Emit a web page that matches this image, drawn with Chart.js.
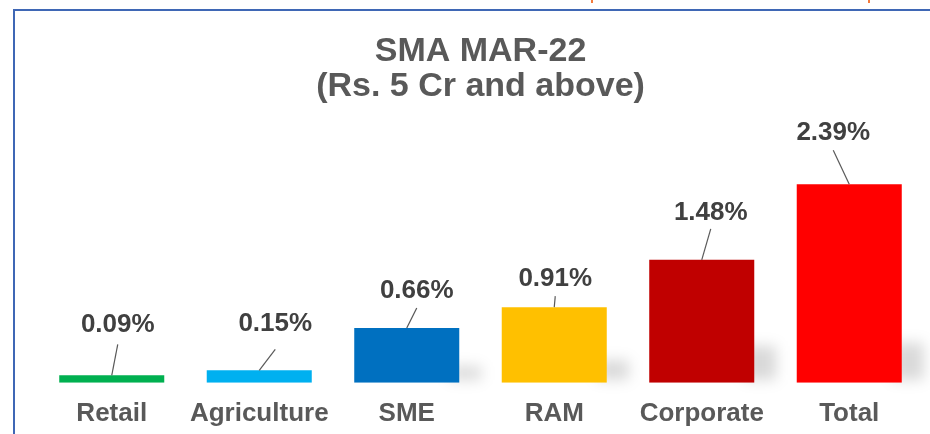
<!DOCTYPE html>
<html>
<head>
<meta charset="utf-8">
<script src="https://cdn.jsdelivr.net/npm/chart.js@4"></script>
<style>
  html, body { margin: 0; padding: 0; background: #ffffff; overflow: hidden; }
  #wrap { width: 930px; height: 437px; position: relative; }
</style>
</head>
<body>
<div id="wrap"><canvas id="smaChart"></canvas></div>
<script>
// data
var categories = ['Retail', 'Agriculture', 'SME', 'RAM', 'Corporate', 'Total'];
var smaValues = [0.09, 0.15, 0.66, 0.91, 1.48, 2.39];
var barColors = ['#00B050', '#00B0F0', '#0070C0', '#FFC000', '#C00000', '#FF0000'];
var titleLines = ['SMA MAR-22', '(Rs. 5 Cr and above)'];

// callout label shift from the bar top: [dx, dy, gap below label centre]
var calloutOffsets = [[6, -50, 19], [16, -47, 26], [10, -37, 17], [1, -28, 17], [9, -47, 16], [-16, -51, 17]];

var FONT = "'Liberation Sans', Arial, sans-serif";

// soft grey shadow on the lower right of each bar
var barShadow = {
    id: 'barShadow',
    beforeDatasetsDraw: function(chart) {
        var ctx = chart.ctx;
        var bars = chart.getDatasetMeta(0).data;
        ctx.save();
        ctx.filter = 'blur(7px)';
        ctx.fillStyle = 'rgba(0,0,0,0.15)';
        bars.forEach(function(bar) {
            var h = bar.base - bar.y;
            var sh = Math.min(40, h * 0.3);
            if (sh < 4) return;
            var right = bar.x + bar.width / 2;
            ctx.fillRect(right - 10, bar.base - sh, 32, sh - 3);
        });
        ctx.restore();
    }
};

// value labels with leader lines
var callouts = {
    id: 'callouts',
    afterDatasetsDraw: function(chart) {
        var ctx = chart.ctx;
        var bars = chart.getDatasetMeta(0).data;
        ctx.save();
        ctx.font = 'bold 26px ' + FONT;
        ctx.textAlign = 'center';
        ctx.textBaseline = 'middle';
        bars.forEach(function(bar, i) {
            var off = calloutOffsets[i];
            var lx = bar.x + off[0];
            var ly = bar.y + off[1];
            ctx.strokeStyle = '#595959';
            ctx.lineWidth = 1.2;
            ctx.beginPath();
            ctx.moveTo(bar.x, bar.y);
            ctx.lineTo(lx, ly + off[2]);
            ctx.stroke();
            ctx.fillStyle = '#404040';
            ctx.fillText(smaValues[i].toFixed(2) + '%', lx, ly);
        });
        ctx.restore();
    }
};

// slide frame around the chart
var frame = {
    id: 'frame',
    afterDraw: function(chart) {
        var ctx = chart.ctx;
        ctx.save();
        ctx.strokeStyle = '#3F67B5';
        ctx.lineWidth = 2;
        ctx.beginPath();
        ctx.moveTo(14, 437);
        ctx.lineTo(14, 10);
        ctx.lineTo(930, 10);
        ctx.stroke();
        ctx.strokeStyle = '#F47B3C';
        ctx.lineWidth = 2;
        ctx.beginPath();
        ctx.moveTo(592, 0);
        ctx.lineTo(592, 3);
        ctx.moveTo(869, 0);
        ctx.lineTo(869, 3);
        ctx.stroke();
        ctx.restore();
    }
};

var ctx = document.getElementById('smaChart').getContext('2d');
var smaChart = new Chart(ctx, {
    type: 'bar',
    data: {
        labels: categories,
        datasets: [{
            data: smaValues,
            backgroundColor: barColors,
            borderWidth: 0,
            barPercentage: 0.712,
            categoryPercentage: 1
        }]
    },
    options: {
        responsive: true,
        maintainAspectRatio: false,
        animation: false,
        layout: { padding: { left: 38, right: 7, top: 0, bottom: -7 } },
        plugins: {
            legend: { display: false },
            tooltip: { enabled: false },
            title: {
                display: true,
                text: titleLines,
                color: '#595959',
                font: { family: FONT, size: 34, weight: 'bold', lineHeight: 1.03 },
                padding: { top: 34, bottom: 7 }
            }
        },
        scales: {
            x: {
                grid: { display: false, drawTicks: false },
                border: { display: false },
                ticks: {
                    color: '#595959',
                    padding: 15,
                    font: { family: FONT, size: 26, weight: 'bold' }
                }
            },
            y: {
                display: false,
                min: 0,
                max: 3.27
            }
        }
    },
    plugins: [barShadow, callouts, frame]
});
</script>
</body>
</html>
